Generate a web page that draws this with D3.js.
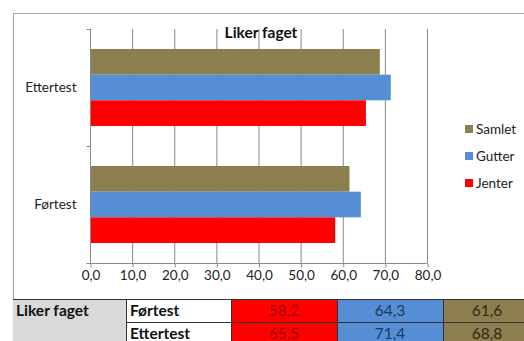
<!DOCTYPE html>
<html>
<head>
<meta charset="utf-8">
<script src="https://cdn.jsdelivr.net/npm/d3@7"></script>
<style>
  body { margin: 0; background: white; }
  svg text { font-family: Lato, "Open Sans", sans-serif; }
</style>
</head>
<body>
<div id="outer"></div>
<script>
////////// DATA //////////
const categories = ['Ettertest', 'Førtest'];
const seriesNames = ['Samlet', 'Gutter', 'Jenter'];
const jenter = [65.5, 58.2];
const gutter = [71.4, 64.3];
const samlet = [68.8, 61.6];
const xTicks = [0, 10, 20, 30, 40, 50, 60, 70, 80];
const tableRows = ['Førtest', 'Ettertest'];

////////// SETUP //////////
const W = 524, H = 341;
const colors = { Samlet: '#8c7e4e', Gutter: '#558ed5', Jenter: '#ff0000' };
const textColors = { Samlet: '#2e2a1a', Gutter: '#1f3860', Jenter: '#9c0000' };
const valuesBy = { Samlet: samlet, Gutter: gutter, Jenter: jenter };
const fmt = v => d3.format('.1f')(v).replace('.', ',');
const labelSize = '13.5px';

const plot = { left: 90, right: 427, top: 29, bottom: 263 };

const svg = d3.select('#outer').append('svg')
  .attr('width', W)
  .attr('height', H);

// chart border (only top/left visible in crop)
svg.append('path')
  .attr('d', `M13.5,${H} V13.5 H${W}`)
  .attr('fill', 'none')
  .attr('stroke', '#a6a6a6')
  .attr('stroke-width', 1.2);

// SCALES //
const x = d3.scaleLinear().domain([0, 80]).range([plot.left, plot.right]);
const y = d3.scaleBand().domain(categories).range([plot.top, plot.bottom]);
const inner = d3.scaleBand().domain(seriesNames)
  .range([0, y.bandwidth()])
  .paddingOuter(0.78)   // excel gap width ~155%
  .paddingInner(0);

// GRIDLINES //
svg.append('g')
  .selectAll('line')
  .data(xTicks.slice(1))
  .join('line')
  .attr('x1', d => x(d) + 0.5)
  .attr('x2', d => x(d) + 0.5)
  .attr('y1', plot.top)
  .attr('y2', plot.bottom)
  .attr('stroke', '#8a8a8a')
  .attr('stroke-width', 1);

// BARS //
const groups = svg.append('g')
  .selectAll('g')
  .data(categories)
  .join('g')
  .attr('transform', c => `translate(0,${y(c)})`);

groups.selectAll('rect')
  .data((c, i) => seriesNames.map(s => ({ s, v: valuesBy[s][i] })))
  .join('rect')
  .attr('x', x(0))
  .attr('y', d => inner(d.s))
  .attr('width', d => x(d.v) - x(0))
  .attr('height', inner.bandwidth())
  .attr('fill', d => colors[d.s]);

// X AXIS //
const xAxis = svg.append('g')
  .attr('transform', `translate(0.5,${plot.bottom + 0.5})`)
  .call(d3.axisBottom(x).tickValues(xTicks).tickFormat(fmt).tickSize(4).tickPadding(3));
xAxis.select('.domain').attr('stroke', '#8a8a8a').attr('d', `M${plot.left - 3},0H${plot.right}`);
xAxis.selectAll('.tick line').attr('stroke', '#8a8a8a');
xAxis.selectAll('.tick text')
  .attr('fill', '#222')
  .style('font-size', labelSize)
  .style('font-family', 'Lato, sans-serif');

// Y AXIS //
const yAxisG = svg.append('g').attr('transform', `translate(${plot.left + 0.5},0)`);
yAxisG.append('line')
  .attr('y1', plot.top).attr('y2', plot.bottom)
  .attr('stroke', '#8a8a8a');
yAxisG.selectAll('line.tk')
  .data([plot.top, y(categories[1]), plot.bottom])
  .join('line')
  .attr('class', 'tk')
  .attr('x1', -4).attr('x2', 0)
  .attr('y1', d => d + 0.5).attr('y2', d => d + 0.5)
  .attr('stroke', '#8a8a8a');
yAxisG.selectAll('text')
  .data(categories)
  .join('text')
  .attr('x', -14)
  .attr('y', c => y(c) + y.bandwidth() / 2)
  .attr('dy', '0.35em')
  .attr('text-anchor', 'end')
  .attr('fill', '#222')
  .style('font-size', labelSize)
  .text(c => c);

// TITLE //
svg.append('text')
  .attr('x', 261)
  .attr('y', 38)
  .attr('text-anchor', 'middle')
  .attr('fill', '#111')
  .style('font-size', '15.5px')
  .style('font-weight', 'bold')
  .text('Liker faget');

// LEGEND //
const legend = svg.append('g').attr('transform', 'translate(465,129)');
const li = legend.selectAll('g')
  .data(seriesNames)
  .join('g')
  .attr('transform', (d, i) => `translate(0,${i * 27})`);
li.append('rect')
  .attr('x', 0).attr('y', -4)
  .attr('width', 8).attr('height', 8)
  .attr('fill', d => colors[d]);
li.append('text')
  .attr('x', 11)
  .attr('dy', '0.35em')
  .attr('fill', '#222')
  .style('font-size', labelSize)
  .text(d => d);

// TABLE //
const tableTop = 299, rowH = 23;
const colX = [13, 126, 231, 337, 443, 550];
const tableSeries = ['Jenter', 'Gutter', 'Samlet'];
const tableFont = '15.5px';
const table = svg.append('g');

table.append('rect')
  .attr('x', colX[0]).attr('y', tableTop)
  .attr('width', colX[1] - colX[0]).attr('height', rowH * 2)
  .attr('fill', '#d9d9d9');
table.append('text')
  .attr('x', colX[0] + 3).attr('y', tableTop + rowH / 2)
  .attr('dy', '0.35em')
  .attr('fill', '#111')
  .style('font-size', tableFont)
  .style('font-weight', 'bold')
  .text('Liker faget');

const rowsG = table.selectAll('g.row')
  .data(tableRows)
  .join('g')
  .attr('class', 'row')
  .attr('transform', (d, i) => `translate(0,${tableTop + i * rowH})`);

rowsG.append('rect')
  .attr('x', colX[1]).attr('width', colX[2] - colX[1])
  .attr('height', rowH).attr('fill', 'white');
rowsG.append('text')
  .attr('x', colX[1] + 4).attr('y', rowH / 2).attr('dy', '0.35em')
  .attr('fill', '#111')
  .style('font-size', tableFont)
  .style('font-weight', 'bold')
  .text(d => d);

tableSeries.forEach((s, j) => {
  rowsG.append('rect')
    .attr('x', colX[j + 2]).attr('width', colX[j + 3] - colX[j + 2])
    .attr('height', rowH).attr('fill', colors[s]);
  rowsG.append('text')
    .attr('x', (colX[j + 2] + Math.min(colX[j + 3], 531)) / 2)
    .attr('y', rowH / 2).attr('dy', '0.35em')
    .attr('text-anchor', 'middle')
    .attr('fill', textColors[s])
    .style('font-size', tableFont)
    .text(d => fmt(valuesBy[s][categories.indexOf(d)]));
});

// table grid lines
table.append('g')
  .selectAll('line.h')
  .data([0, 1])
  .join('line')
  .attr('x1', d => d === 0 ? colX[0] : colX[1]).attr('x2', W)
  .attr('y1', d => tableTop + d * rowH + 0.5).attr('y2', d => tableTop + d * rowH + 0.5)
  .attr('stroke', '#333');
table.append('g')
  .selectAll('line.v')
  .data(colX.slice(1, 5))
  .join('line')
  .attr('x1', d => d + 0.5).attr('x2', d => d + 0.5)
  .attr('y1', tableTop).attr('y2', H)
  .attr('stroke', '#333');
</script>
</body>
</html>
